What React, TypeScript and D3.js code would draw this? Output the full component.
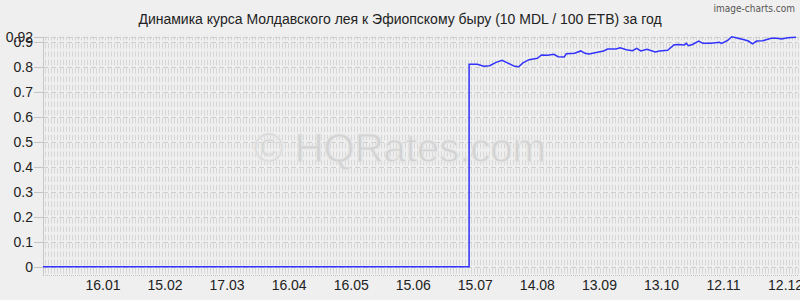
import React from "react";
import * as d3 from "d3";

const title = "Динамика курса Молдавского лея к Эфиопскому быру (10 MDL / 100 ETB) за год";

const dates: string[] = [
  "2013-12-18", "2014-07-12", "2014-07-12", "2014-07-16", "2014-07-19", "2014-07-22", "2014-07-25",
  "2014-07-28", "2014-07-30", "2014-08-03", "2014-08-05", "2014-08-07", "2014-08-10", "2014-08-14",
  "2014-08-16", "2014-08-19", "2014-08-22", "2014-08-24", "2014-08-27", "2014-08-28", "2014-09-01",
  "2014-09-04", "2014-09-06", "2014-09-08", "2014-09-12", "2014-09-15", "2014-09-17", "2014-09-21",
  "2014-09-23", "2014-09-26", "2014-09-29", "2014-10-01", "2014-10-03", "2014-10-06", "2014-10-10",
  "2014-10-12", "2014-10-16", "2014-10-19", "2014-10-21", "2014-10-24", "2014-10-25", "2014-10-26",
  "2014-10-28", "2014-10-31", "2014-11-02", "2014-11-06", "2014-11-10", "2014-11-11", "2014-11-14",
  "2014-11-16", "2014-11-18", "2014-11-22", "2014-11-24", "2014-11-26", "2014-11-28", "2014-12-01",
  "2014-12-05", "2014-12-08", "2014-12-10", "2014-12-13", "2014-12-17",
];

const values: number[] = [
  0, 0, 0.8095, 0.81, 0.8015, 0.804, 0.8175,
  0.8255, 0.8175, 0.8015, 0.8, 0.815, 0.828, 0.8335,
  0.847, 0.8455, 0.8495, 0.84, 0.839, 0.852, 0.8535,
  0.863, 0.8535, 0.851, 0.8575, 0.863, 0.871, 0.871,
  0.876, 0.868, 0.864, 0.8735, 0.863, 0.87, 0.8587,
  0.863, 0.8655, 0.8867, 0.889, 0.8867, 0.8935, 0.884,
  0.889, 0.9027, 0.8935, 0.8935, 0.8975, 0.8935, 0.9055,
  0.92, 0.916, 0.908, 0.9027, 0.891, 0.9027, 0.904,
  0.9135, 0.9135, 0.9107, 0.916, 0.9175,
];

const xTickDates: string[] = [
  "2014-01-16", "2014-02-15", "2014-03-17", "2014-04-16", "2014-05-16", "2014-06-15",
  "2014-07-15", "2014-08-14", "2014-09-13", "2014-10-13", "2014-11-12", "2014-12-12",
];

const yTicks: number[] = [0, 0.1, 0.2, 0.3, 0.4, 0.5, 0.6, 0.7, 0.8, 0.9, 0.92];

const W = 800;
const H = 300;
const FONT = "'Liberation Sans', Arial, sans-serif";

export default function App() {
  const parse = d3.timeParse("%Y-%m-%d");
  const fmt = d3.timeFormat("%d.%m");
  const left = 43;
  const right = 798;
  const yTop = 36.7;
  const yZero = 266.7;
  const yBottom = 276;

  const x = d3
    .scaleTime()
    .domain([parse("2013-12-18") as Date, parse("2014-12-18") as Date])
    .range([left, right]);
  const y = d3.scaleLinear().domain([0, 0.92]).range([yZero, yTop]);

  const data = dates.map((d, i) => ({ date: parse(d) as Date, value: values[i] }));
  const line = d3
    .line<{ date: Date; value: number }>()
    .x((d) => x(d.date))
    .y((d) => y(d.value));

  const vLines: number[] = d3.range(left + 1.5, right, 3);
  const step = (y(0) - y(0.1)) / 3;
  const dash = step - 2.83;

  return (
    <svg
      width={W}
      height={H}
      style={{ position: "absolute", left: 0, top: 0, background: "#efefef" }}
    >
      <rect x={0} y={0} width={W} height={H} fill="#efefef" />
      <g stroke="#d6d6d6" strokeWidth={1}>
        {vLines.map((vx, i) => (
          <line
            key={i}
            x1={Math.round(vx) + 0.5}
            x2={Math.round(vx) + 0.5}
            y1={yZero + step - 1.42}
            y2={yTop}
            strokeDasharray={`${dash} 2.83`}
          />
        ))}
      </g>
      <g stroke="#cfcfcf" strokeWidth={1}>
        {yTicks.map((t, i) => (
          <line
            key={i}
            x1={left}
            x2={right}
            y1={Math.round(y(t)) + 0.5}
            y2={Math.round(y(t)) + 0.5}
            strokeDasharray="5 3"
          />
        ))}
        <line
          x1={left}
          x2={right}
          y1={Math.round(yBottom) - 0.5}
          y2={Math.round(yBottom) - 0.5}
          strokeDasharray="1 1"
          stroke="#c4c4c4"
        />
      </g>
      <line x1={left + 0.5} x2={left + 0.5} y1={yTop} y2={yBottom} stroke="#c8c8c8" />
      <g>
        {yTicks.map((t, i) => (
          <g key={i}>
            <line
              x1={34}
              x2={left}
              y1={Math.round(y(t)) + 0.5}
              y2={Math.round(y(t)) + 0.5}
              stroke="#c4c4c4"
            />
            <text
              x={33}
              y={y(t)}
              dy="0.35em"
              textAnchor="end"
              fontFamily={FONT}
              fontSize={14}
              fill="#222"
            >
              {String(t)}
            </text>
          </g>
        ))}
      </g>
      <g>
        {xTickDates.map((d, i) => {
          const dt = parse(d) as Date;
          return (
            <text
              key={i}
              x={x(dt)}
              y={285}
              dy="0.35em"
              textAnchor="middle"
              fontFamily={FONT}
              fontSize={14}
              fill="#222"
            >
              {fmt(dt)}
            </text>
          );
        })}
      </g>
      <text
        x={400}
        y={162}
        textAnchor="middle"
        fontFamily={FONT}
        fontSize={40}
        fill="#d2d2d2"
        stroke="#e6e6e6"
        strokeWidth={1}
      >
        © HQRates.com
      </text>
      <path d={line(data) || ""} fill="none" stroke="#3232ff" strokeWidth={1.5} />
      <text
        x={400}
        y={19}
        dy="0.35em"
        textAnchor="middle"
        fontFamily={FONT}
        fontSize={14}
        fill="#222"
      >
        {title}
      </text>
      <text
        x={795}
        y={8}
        dy="0.35em"
        textAnchor="end"
        fontFamily="'DejaVu Sans Condensed', 'DejaVu Sans', sans-serif"
        fontSize={10}
        fill="#555"
      >
        image-charts.com
      </text>
    </svg>
  );
}
